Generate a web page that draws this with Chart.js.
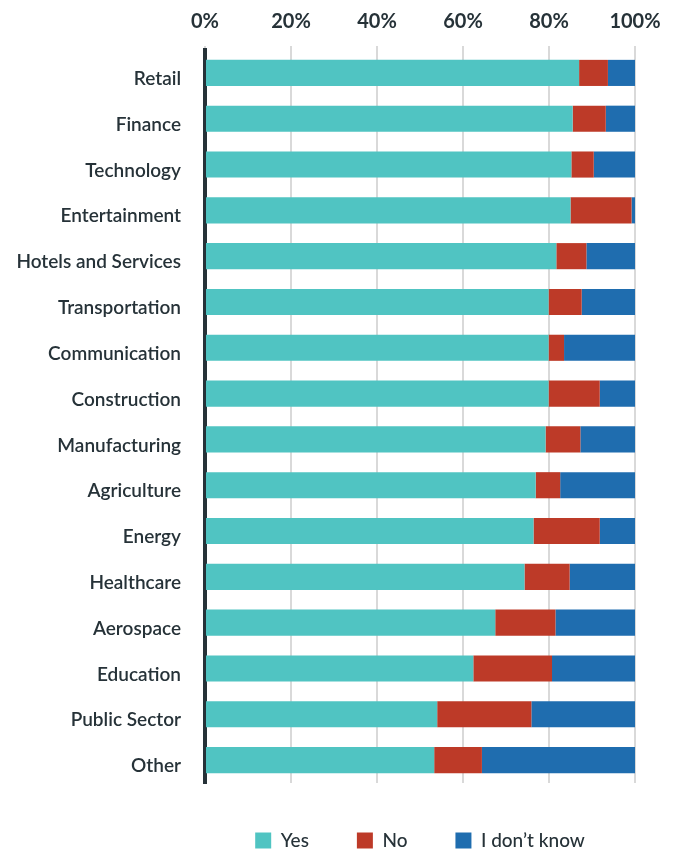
<!DOCTYPE html>
<html>
<head>
<meta charset="utf-8">
<script src="https://cdn.jsdelivr.net/npm/chart.js@4/dist/chart.umd.min.js"></script>
<style>
	html, body { margin: 0; padding: 0; background: #fff; }
	#wrap { width: 678px; height: 850px; }
</style>
</head>
<body>
<div id="wrap"><canvas id="chart"></canvas></div>
<script>
const categories = [
	'Retail', 'Finance', 'Technology', 'Entertainment', 'Hotels and Services',
	'Transportation', 'Communication', 'Construction', 'Manufacturing', 'Agriculture',
	'Energy', 'Healthcare', 'Aerospace', 'Education', 'Public Sector', 'Other',
];

const yesValues = [ 87.0, 85.5, 85.2, 85.0, 81.7, 79.9, 79.9, 79.9, 79.2, 76.9, 76.4, 74.3, 67.5, 62.4, 54.0, 53.3 ];
const noValues = [ 6.7, 7.7, 5.2, 14.2, 7.0, 7.7, 3.6, 11.9, 8.1, 5.7, 15.4, 10.5, 14.0, 18.3, 21.9, 11.1 ];
const dontKnowValues = [ 6.3, 6.8, 9.6, 0.8, 11.3, 12.4, 16.5, 8.2, 12.7, 17.4, 8.2, 15.2, 18.5, 19.3, 24.1, 35.6 ];

const xTicks = [ 0, 20, 40, 60, 80, 100 ];

const textColor = '#263238';

new Chart( document.getElementById( 'chart' ).getContext( '2d' ), {
	type: 'bar',
	data: {
		labels: categories,
		datasets: [
			{ label: 'Yes', data: yesValues, backgroundColor: '#50c4c2' },
			{ label: 'No', data: noValues, backgroundColor: '#bd3a28' },
			{ label: 'I don\u2019t know', data: dontKnowValues, backgroundColor: '#1f6daf' },
		],
	},
	options: {
		indexAxis: 'y',
		responsive: true,
		maintainAspectRatio: false,
		animation: false,
		layout: {
			padding: { top: 0, right: 43, bottom: -10, left: 0 },
		},
		datasets: {
			bar: {
				barPercentage: 0.57,
				categoryPercentage: 1,
				borderWidth: 0,
			},
		},
		scales: {
			x: {
				position: 'top',
				stacked: true,
				min: 0,
				max: 100,
				afterBuildTicks: scale => {
					scale.ticks = xTicks.map( v => ( { value: v } ) );
				},
				afterFit: scale => {
					scale.height = 50;
				},
				grid: {
					color: '#d9d9d9',
					lineWidth: 2,
					drawTicks: true,
					tickLength: 4,
				},
				border: { display: false },
				ticks: {
					padding: 12,
					color: textColor,
					font: { family: 'Lato', size: 20, weight: 'bold' },
					callback: v => v + '%',
				},
			},
			y: {
				stacked: true,
				afterFit: scale => {
					scale.width = 205;
				},
				grid: { display: false, drawTicks: false },
				border: { display: true, color: textColor, width: 4 },
				ticks: {
					padding: 24,
					labelOffset: 6,
					color: textColor,
					font: { family: 'Lato', size: 19, weight: 600 },
				},
			},
		},
		plugins: {
			tooltip: { enabled: false },
			legend: {
				position: 'bottom',
				fullSize: false,
				labels: {
					boxWidth: 16,
					boxHeight: 16,
					padding: 48,
					color: textColor,
					font: { family: 'Lato', size: 19, weight: 500 },
				},
			},
		},
	},
} );
</script>
</body>
</html>
